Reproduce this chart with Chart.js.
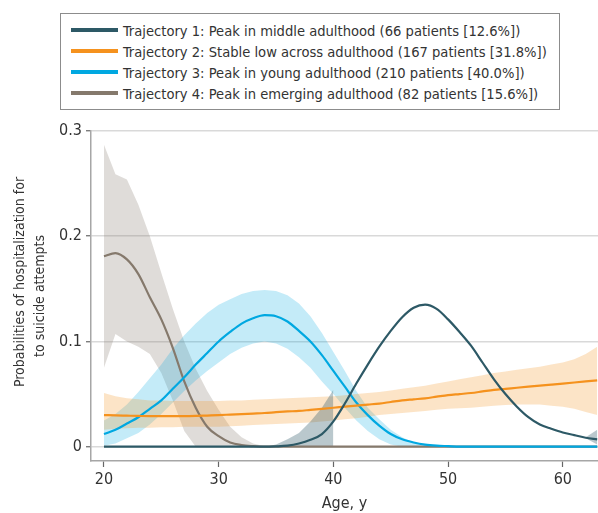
<!DOCTYPE html>
<html>
<head>
<meta charset="utf-8">
<script src="https://cdn.jsdelivr.net/npm/chart.js@4"></script>
<style>
  html, body { margin: 0; padding: 0; background: #fff; }
  #wrap { position: relative; width: 598px; height: 513px; }
  #chart { position: absolute; left: 0; top: 0; }
  #legend {
    position: absolute; left: 60px; top: 13px; width: 500px; height: 97px;
    box-sizing: border-box; border: 1.5px solid #8c8c8c; background: #fff;
    font-family: 'DejaVu Sans Condensed', 'Liberation Sans Narrow', 'Liberation Sans', sans-serif;
    font-size: 14.6px; color: #333;
  }
  .row { position: absolute; left: 10px; height: 20px; display: flex; align-items: center; white-space: nowrap; }
  .swatch { width: 47px; height: 3.5px; margin-right: 5px; }
</style>
</head>
<body>
<div id="wrap">
  <canvas id="chart" width="598" height="513"></canvas>
  <div id="legend"></div>
</div>
<script>
/**
 * Data
 */
const FONT = "'DejaVu Sans Condensed', 'Liberation Sans Narrow', 'Liberation Sans', sans-serif";

const ages = [20, 21, 22, 23, 24, 25, 26, 27, 28, 29, 30, 31, 32, 33, 34, 35, 36, 37, 38, 39, 40, 41,
  42, 43, 44, 45, 46, 47, 48, 49, 50, 51, 52, 53, 54, 55, 56, 57, 58, 59, 60, 61, 62, 63];

const xTicks = [20, 30, 40, 50, 60];
const yTicks = [0, 0.1, 0.2, 0.3];
const yTickLabels = ["0", "0.1", "0.2", "0.3"];

const seriesLabels = [
  "Trajectory 1: Peak in middle adulthood (66 patients [12.6%])",
  "Trajectory 2: Stable low across adulthood (167 patients [31.8%])",
  "Trajectory 3: Peak in young adulthood (210 patients [40.0%])",
  "Trajectory 4: Peak in emerging adulthood (82 patients [15.6%])",
];
const lineColors = ["#2d5966", "#f5921e", "#00a8e1", "#85796c"];
const bandColors = ["rgba(45, 89, 102, 0.33)", "rgba(245, 146, 30, 0.25)", "rgba(0, 168, 225, 0.23)", "rgba(133, 121, 108, 0.26)"];

// Trajectory 1: peak in middle adulthood
const traj1 = [0, 0, 0, 0, 0, 0, 0, 0, 0, 0, 0, 0, 0, 0, 0, 0.0003, 0.001, 0.003, 0.0065, 0.012, 0.024, 0.041,
  0.06, 0.078, 0.095, 0.11, 0.123, 0.132, 0.135, 0.131, 0.121, 0.109, 0.096, 0.08, 0.064, 0.05, 0.038, 0.028, 0.021, 0.017, 0.0135, 0.011, 0.0085, 0.007];
const traj1Upper = [null, null, null, null, null, null, null, null, null, null, null, null, null, null, 0, 0.002, 0.007, 0.013, 0.024, 0.037, 0.054, null,
  null, null, null, null, null, null, null, null, null, null, null, null, null, null, null, null, null, null, null, null, 0.009, 0.016];
const traj1Lower = [null, null, null, null, null, null, null, null, null, null, null, null, null, null, 0, 0, 0, 0, 0, 0, 0, null,
  null, null, null, null, null, null, null, null, null, null, null, null, null, null, null, null, null, null, null, null, 0.008, 0.002];

// Trajectory 2: stable low
const traj2 = [0.03, 0.0298, 0.0295, 0.0292, 0.029, 0.029, 0.029, 0.029, 0.0292, 0.0296, 0.03, 0.0305, 0.031, 0.0315, 0.032, 0.0328, 0.0335, 0.034, 0.035, 0.036, 0.037, 0.038,
  0.039, 0.04, 0.041, 0.0425, 0.044, 0.045, 0.046, 0.0475, 0.049, 0.05, 0.051, 0.0525, 0.054, 0.055, 0.056, 0.057, 0.058, 0.059, 0.06, 0.061, 0.062, 0.063];
const traj2Upper = [0.051, 0.048, 0.046, 0.045, 0.044, 0.044, 0.0435, 0.0435, 0.0435, 0.0435, 0.0435, 0.044, 0.044, 0.0445, 0.045, 0.0455, 0.046, 0.0465, 0.047, 0.0475, 0.048, 0.049,
  0.05, 0.051, 0.052, 0.0535, 0.055, 0.0565, 0.058, 0.06, 0.062, 0.064, 0.066, 0.068, 0.07, 0.0715, 0.073, 0.0745, 0.076, 0.078, 0.08, 0.083, 0.088, 0.095];
const traj2Lower = [0.016, 0.017, 0.0175, 0.018, 0.018, 0.0185, 0.0185, 0.019, 0.019, 0.019, 0.019, 0.0195, 0.02, 0.0205, 0.021, 0.0215, 0.022, 0.0225, 0.023, 0.024, 0.025, 0.026,
  0.027, 0.0285, 0.03, 0.031, 0.032, 0.033, 0.034, 0.035, 0.036, 0.0365, 0.037, 0.038, 0.039, 0.0395, 0.04, 0.04, 0.04, 0.039, 0.038, 0.036, 0.033, 0.03];

// Trajectory 3: peak in young adulthood
const traj3 = [0.012, 0.016, 0.022, 0.028, 0.036, 0.044, 0.055, 0.066, 0.078, 0.089, 0.1, 0.109, 0.117, 0.122, 0.125, 0.124, 0.119, 0.11, 0.1, 0.087, 0.072, 0.057,
  0.042, 0.03, 0.02, 0.012, 0.007, 0.004, 0.002, 0.001, 0.0005, 0, 0, 0, 0, 0, 0, 0, 0, 0, 0, 0, 0, 0];
const traj3Upper = [0.025, 0.031, 0.04, 0.052, 0.065, 0.078, 0.093, 0.106, 0.117, 0.127, 0.135, 0.14, 0.145, 0.148, 0.149, 0.148, 0.144, 0.136, 0.124, 0.108, 0.09, 0.072,
  0.053, 0.037, 0.026, 0.016, 0.009, 0.004, 0.002, 0.001, 0.0005, 0, 0, 0, 0, 0, 0, 0, 0, 0, 0, 0, 0, 0];
const traj3Lower = [0.001, 0.003, 0.008, 0.013, 0.021, 0.031, 0.042, 0.053, 0.063, 0.072, 0.08, 0.088, 0.094, 0.098, 0.1, 0.098, 0.093, 0.085, 0.075, 0.062, 0.05, 0.037,
  0.025, 0.015, 0.007, 0.002, 0, 0, 0, 0, 0, 0, 0, 0, 0, 0, 0, 0, 0, 0, 0, 0, 0, 0];

// Trajectory 4: peak in emerging adulthood
const traj4 = [0.181, 0.184, 0.178, 0.164, 0.142, 0.121, 0.094, 0.062, 0.037, 0.019, 0.01, 0.004, 0.0015, 0.0005, 0, 0, 0, 0, 0, 0, 0, 0,
  0, 0, 0, 0, 0, 0, 0, 0, 0, 0, 0, 0, 0, 0, 0, 0, 0, 0, 0, 0, 0, 0];
const traj4Upper = [0.287, 0.259, 0.254, 0.23, 0.2, 0.165, 0.131, 0.1, 0.074, 0.053, 0.035, 0.019, 0.009, 0.003, 0.0005, 0, 0, 0, 0, 0, 0, 0,
  0, 0, 0, 0, 0, 0, 0, 0, 0, 0, 0, 0, 0, 0, 0, 0, 0, 0, 0, 0, 0, 0];
const traj4Lower = [0.075, 0.107, 0.1, 0.095, 0.088, 0.07, 0.044, 0.015, 0, 0, 0, 0, 0, 0, 0, 0, 0, 0, 0, 0, 0, 0,
  0, 0, 0, 0, 0, 0, 0, 0, 0, 0, 0, 0, 0, 0, 0, 0, 0, 0, 0, 0, 0, 0];

/**
 * Helpers
 */
const pts = (arr) => ages.map((a, i) => ({ x: a, y: arr[i] }));

const mainLine = (i, arr) => ({
  label: seriesLabels[i],
  data: pts(arr),
  borderColor: lineColors[i],
  borderWidth: 2.2,
  pointRadius: 0,
  fill: false,
  cubicInterpolationMode: "monotone",
});

const bandPair = (i, upper, lower) => [
  {
    label: "upper " + (i + 1),
    data: pts(upper),
    borderWidth: 0,
    pointRadius: 0,
    backgroundColor: bandColors[i],
    fill: "+1",
    tension: 0,
  },
  {
    label: "lower " + (i + 1),
    data: pts(lower),
    borderWidth: 0,
    pointRadius: 0,
    fill: false,
    tension: 0,
  },
];

/**
 * Legend (HTML box above the plot)
 */
const legendBox = document.getElementById("legend");
seriesLabels.forEach((text, i) => {
  const row = document.createElement("div");
  row.className = "row";
  row.style.top = 6 + i * 21 + "px";
  row.innerHTML = '<span class="swatch" style="background:' + lineColors[i] + '"></span><span>' + text + "</span>";
  legendBox.appendChild(row);
});

/**
 * Chart
 */
const axisFont = { family: FONT, size: 16 };
const yTitleFont = { family: FONT, size: 14, lineHeight: 1.43 };

new Chart(document.getElementById("chart"), {
  type: "line",
  data: {
    datasets: [
      mainLine(0, traj1),
      mainLine(1, traj2),
      mainLine(2, traj3),
      mainLine(3, traj4),
      ...bandPair(0, traj1Upper, traj1Lower),
      ...bandPair(1, traj2Upper, traj2Lower),
      ...bandPair(2, traj3Upper, traj3Lower),
      ...bandPair(3, traj4Upper, traj4Lower),
    ],
  },
  options: {
    responsive: false,
    animation: false,
    layout: { padding: { top: 131, left: 0, right: 0, bottom: 0 } },
    plugins: { legend: { display: false }, tooltip: { enabled: false } },
    scales: {
      x: {
        type: "linear",
        min: 18.87,
        max: 63.07,
        afterBuildTicks: (s) => { s.ticks = xTicks.map((v) => ({ value: v })); },
        afterFit: (s) => { s.height = 52; },
        grid: { drawOnChartArea: false, drawTicks: true, tickLength: 6, tickColor: "#666", tickWidth: 1.2 },
        border: { color: "#a6a6a6", width: 1.5 },
        ticks: { color: "#333", font: axisFont, padding: 3, maxRotation: 0, callback: (v) => String(v) },
        title: { display: true, text: "Age, y", color: "#333", font: axisFont, padding: { top: 0, bottom: 0 } },
      },
      y: {
        min: -0.0136,
        max: 0.3,
        afterBuildTicks: (s) => { s.ticks = yTicks.map((v) => ({ value: v })); },
        afterFit: (s) => { s.width = 91; },
        grid: { color: "#d9d9d9", lineWidth: 1.5, tickLength: 5, tickColor: "#666", tickWidth: 1.2 },
        border: { color: "#a6a6a6", width: 1.5 },
        ticks: { color: "#333", font: axisFont, padding: 4, callback: (v, i) => yTickLabels[i] },
        title: {
          display: true,
          text: ["       Probabilities of hospitalization for", "to suicide attempts"],
          color: "#333",
          font: yTitleFont,
          padding: { top: 10, bottom: 0 },
        },
      },
    },
  },
});
</script>
</body>
</html>
